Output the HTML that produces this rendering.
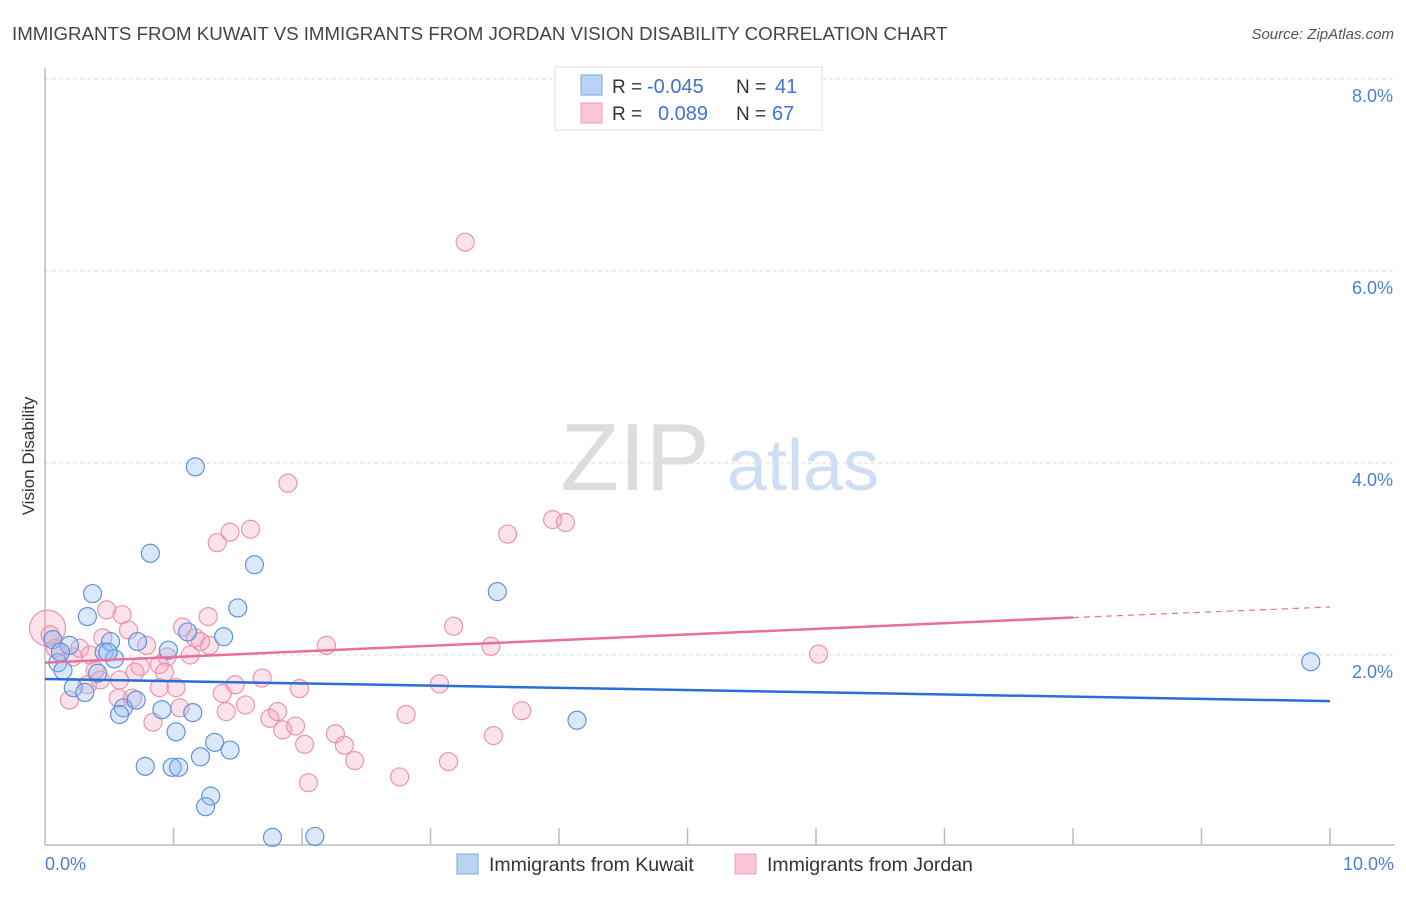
<!DOCTYPE html>
<html><head><meta charset="utf-8"><style>
body{margin:0;background:#fff;font-family:"Liberation Sans",sans-serif}
svg text{font-family:"Liberation Sans",sans-serif}
</style></head><body>
<svg width="1406" height="892" xmlns="http://www.w3.org/2000/svg">
<text x="12" y="40" font-size="18.7" fill="#444">IMMIGRANTS FROM KUWAIT VS IMMIGRANTS FROM JORDAN VISION DISABILITY CORRELATION CHART</text>
<text x="1394" y="39" font-size="15" fill="#555" font-style="italic" text-anchor="end">Source: ZipAtlas.com</text>
<text x="34" y="456" font-size="17" fill="#333" text-anchor="middle" transform="rotate(-90 34 456)">Vision Disability</text>
<g>
<text x="635" y="490" font-size="96" fill="#ddd" font-family="Liberation Serif,serif" text-anchor="middle">ZIP</text>
<text x="803" y="490" font-size="72" fill="#cfdff3" text-anchor="middle">atlas</text>
</g>
<g id="grid"></g>
<line x1="45" y1="68" x2="45" y2="845" stroke="#bbb" stroke-width="1.5"/>
<line x1="45" y1="845" x2="1395" y2="845" stroke="#bbb" stroke-width="1.5"/>
<g id="xticks"></g>
<g id="pts"></g>
<g id="trend"></g>
<text x="45" y="870" font-size="18" fill="#4a7fd4">0.0%</text>
<text x="1394" y="870" font-size="18" fill="#4a7fd4" text-anchor="end">10.0%</text>
<g>
<rect x="555" y="67" width="267" height="63" fill="#fff" stroke="#ddd"/>
<rect x="581" y="75" width="21" height="20" fill="#b9d3f5" stroke="#7aa6e5"/>
<rect x="581" y="103" width="21" height="20" fill="#fbc6d4" stroke="#ef9fb5"/>
<text x="612" y="93" font-size="19" fill="#333">R =</text>
<text x="647" y="93" font-size="20" fill="#3e73d0">-0.045</text>
<text x="736" y="93" font-size="19" fill="#333">N =</text>
<text x="775" y="93" font-size="20" fill="#3e73d0">41</text>
<text x="612" y="120" font-size="19" fill="#333">R =</text>
<text x="658" y="120" font-size="20" fill="#3e73d0">0.089</text>
<text x="736" y="120" font-size="19" fill="#333">N =</text>
<text x="772" y="120" font-size="20" fill="#3e73d0">67</text>
</g>
<g>
<rect x="457" y="854" width="21" height="20" fill="#b9d3f5" stroke="#7aa6e5"/>
<text x="489" y="871" font-size="19.5" fill="#333">Immigrants from Kuwait</text>
<rect x="735" y="854" width="21" height="20" fill="#fbc6d4" stroke="#ef9fb5"/>
<text x="767" y="871" font-size="19.5" fill="#333">Immigrants from Jordan</text>
</g>
</svg>
<script>
const yTicks=[2,4,6,8];
const yTickLabels=["2.0%","4.0%","6.0%","8.0%"];
const xTicks=[1,2,3,4,5,6,7,8,9,10];
const kuwaitX=[0.37,0.33,0.10,0.14,0.19,0.22,0.31,0.41,0.46,0.51,0.54,0.61,0.58,0.71,0.72,0.82,0.78,0.91,0.96,1.02,0.99,1.04,1.11,1.15,1.17,1.21,1.29,1.25,1.32,1.39,1.44,1.50,1.63,1.77,2.10,3.52,4.14,9.85,0.06,0.12,0.49];
const kuwaitY=[2.64,2.40,1.92,1.84,2.10,1.66,1.61,1.81,2.03,2.14,1.96,1.45,1.38,1.53,2.14,3.06,0.84,1.43,2.05,1.20,0.83,0.83,2.24,1.40,3.96,0.94,0.53,0.42,1.09,2.19,1.01,2.49,2.94,0.10,0.11,2.66,1.32,1.93,2.16,2.03,2.03];
const jordanX=[3.27,1.89,1.60,1.44,1.34,3.60,3.95,4.05,0.60,0.48,0.65,0.45,0.79,1.07,1.17,1.27,1.28,1.21,0.95,0.89,0.74,0.70,0.58,0.27,0.35,0.22,0.12,0.08,0.02,0.04,0.39,0.33,0.57,0.84,0.89,1.02,1.05,1.13,1.38,1.48,1.41,1.56,1.69,1.75,1.81,1.85,1.95,2.02,1.98,2.05,2.19,2.26,2.33,2.41,2.76,2.81,3.07,3.14,3.18,3.47,3.49,3.71,6.02,0.19,0.43,0.93,0.68];
const jordanY=[6.30,3.79,3.31,3.28,3.17,3.26,3.41,3.38,2.42,2.47,2.26,2.18,2.10,2.29,2.18,2.40,2.10,2.14,1.98,1.90,1.88,1.82,1.74,2.07,2.00,1.98,2.03,2.07,2.28,2.21,1.84,1.69,1.55,1.30,1.66,1.66,1.45,2.00,1.60,1.69,1.41,1.48,1.76,1.34,1.41,1.22,1.26,1.07,1.65,0.67,2.10,1.18,1.06,0.90,0.73,1.38,1.70,0.89,2.30,2.09,1.16,1.42,2.01,1.53,1.74,1.82,1.55];
const kuwaitTrend=[[0,1.75],[10,1.52]];
const jordanTrend=[[0,1.92],[8,2.39],[10,2.50]];
const NS="http://www.w3.org/2000/svg";
const sx=v=>45+v*128.5, sy=v=>847-v*96;
function mk(t,a,p){const e=document.createElementNS(NS,t);for(const k in a)e.setAttribute(k,a[k]);p.appendChild(e);return e;}
const grid=document.getElementById('grid');
yTicks.forEach((t,i)=>{
 const l=mk('line',{x1:45,x2:1395,y1:sy(t),y2:sy(t),stroke:'#ddd','stroke-dasharray':'4,3'},grid);
 
 
 const tx=mk('text',{x:1393,y:sy(t)+23,'font-size':18,fill:'#4a7fd4','text-anchor':'end'},grid);
 tx.textContent=yTickLabels[i];
 
 
});
const xt=document.getElementById('xticks');
xTicks.forEach(t=>{
 const l=mk('line',{x1:sx(t),x2:sx(t),y1:828,y2:845,stroke:'#bbb','stroke-width':1.5},xt);
 
 
});
const pts=document.getElementById('pts');
jordanX.forEach((x,i)=>{
 const c=mk('circle',{cx:sx(x),cy:sy(jordanY[i]),r:i==28?18:9,fill:'rgba(244,160,185,0.3)',stroke:'#ec94ae','stroke-width':1.2},pts);
 
 
});
kuwaitX.forEach((x,i)=>{
 const c=mk('circle',{cx:sx(x),cy:sy(kuwaitY[i]),r:9,fill:'rgba(150,190,240,0.35)',stroke:'#5f93dd','stroke-width':1.2},pts);
 
 
});
const tr=document.getElementById('trend');
const bl=mk('line',{x1:sx(kuwaitTrend[0][0]),y1:sy(kuwaitTrend[0][1]),x2:sx(kuwaitTrend[1][0]),y2:sy(kuwaitTrend[1][1]),stroke:'#2a6fd6','stroke-width':2.5},tr);


const pl=mk('line',{x1:sx(jordanTrend[0][0]),y1:sy(jordanTrend[0][1]),x2:sx(jordanTrend[1][0]),y2:sy(jordanTrend[1][1]),stroke:'#e8709a','stroke-width':2.5},tr);


const pd=mk('line',{x1:sx(jordanTrend[1][0]),y1:sy(jordanTrend[1][1]),x2:sx(jordanTrend[2][0]),y2:sy(jordanTrend[2][1]),stroke:'#e8709a','stroke-width':1.2,'stroke-dasharray':'6,5'},tr);


</script>
</body></html>
